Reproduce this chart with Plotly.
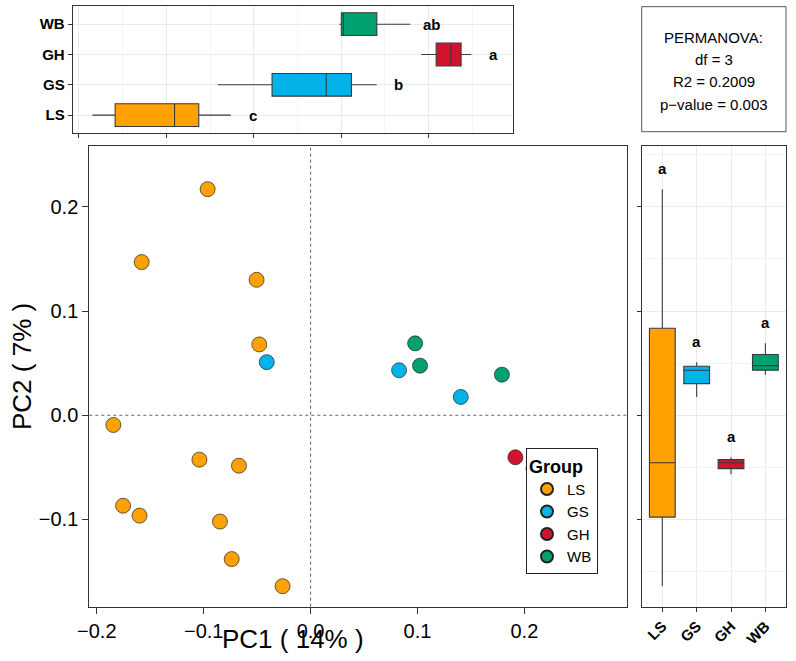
import numpy as np
import plotly.graph_objects as go

# ---------------- data ----------------
groups = ["LS", "GS", "GH", "WB"]
colors = ["#FFA100", "#00B4EA", "#D2122E", "#00A070"]

LS_x = [-0.0963, -0.158, -0.0505, -0.048, -0.1845, -0.104, -0.067, -0.1754, -0.160, -0.0848, -0.0738, -0.0262]
LS_y = [0.217, 0.147, 0.130, 0.068, -0.0093, -0.0426, -0.0484, -0.0868, -0.0963, -0.102, -0.138, -0.164]
GS_x = [-0.041, 0.0828, 0.1405]
GS_y = [0.051, 0.0432, 0.0176]
GH_x = [0.1916, 0.2085, 0.2253, 0.237, 0.2486]
GH_y = [-0.0403, -0.0512, -0.0455, -0.0566, -0.0426]
WB_x = [0.0978, 0.1024, 0.179]
WB_y = [0.069, 0.0476, 0.039]

pc1_letters = ["c", "b", "a", "ab"]
pc2_letters = ["a", "a", "a", "a"]
x_ticks = [-0.2, -0.1, 0.0, 0.1, 0.2]
y_ticks = [-0.1, 0.0, 0.1, 0.2]
perm_lines = ["PERMANOVA:", "df = 3", "R2 = 0.2009", "p\u2212value = 0.003"]
x_title = "PC1 ( 14% )"
y_title = "PC2 ( 7% )"

xs = [LS_x, GS_x, GH_x, WB_x]
ys = [LS_y, GS_y, GH_y, WB_y]

# ---------------- helpers ----------------
W, H = 796, 661
def px(v):
    return v / W
def py(v):
    return 1 - v / H

def box_stats(vals):
    a = np.array(vals, dtype=float)
    q1, med, q3 = np.percentile(a, [25, 50, 75])
    iqr = q3 - q1
    lo = a[a >= q1 - 1.5 * iqr].min()
    hi = a[a <= q3 + 1.5 * iqr].max()
    return q1, med, q3, lo, hi

FONT = "Liberation Sans, Arial, sans-serif"
LINE = "#333333"
GRID = "#EBEBEB"
GRID_MINOR = "#F4F4F4"

fig = go.Figure()

# scatter (main panel)
for g, c, x, y in zip(groups, colors, xs, ys):
    fig.add_trace(go.Scatter(
        x=x, y=y, mode="markers", name=g, legendgroup=g,
        marker=dict(size=15, color=c, line=dict(color="#222222", width=0.7)),
        xaxis="x", yaxis="y", showlegend=True))

annotations = []
# top boxplots (PC1)
for g, c, x, lt in zip(groups, colors, xs, pc1_letters):
    q1, med, q3, lo, hi = box_stats(x)
    fig.add_trace(go.Box(
        y=[g], q1=[q1], median=[med], q3=[q3], lowerfence=[lo], upperfence=[hi],
        orientation="h", fillcolor=c, line=dict(color="#3a3a3a", width=1.1),
        whiskerwidth=0, width=0.75, legendgroup=g, showlegend=False,
        xaxis="x2", yaxis="y2", hoverinfo="skip"))
    annotations.append(dict(x=hi + 0.025, y=g, xref="x2", yref="y2", text="<b>%s</b>" % lt,
                            showarrow=False, font=dict(size=15, color="black", family=FONT),
                            xanchor="center", yanchor="middle"))

# right boxplots (PC2)
for g, c, y, lt in zip(groups, colors, ys, pc2_letters):
    q1, med, q3, lo, hi = box_stats(y)
    fig.add_trace(go.Box(
        x=[g], q1=[q1], median=[med], q3=[q3], lowerfence=[lo], upperfence=[hi],
        fillcolor=c, line=dict(color="#3a3a3a", width=1.1),
        whiskerwidth=0, width=0.75, legendgroup=g, showlegend=False,
        xaxis="x3", yaxis="y3", hoverinfo="skip"))
    annotations.append(dict(x=g, y=hi + 0.02, xref="x3", yref="y3", text="<b>%s</b>" % lt,
                            showarrow=False, font=dict(size=15, color="black", family=FONT),
                            xanchor="center", yanchor="middle"))

# axis titles
annotations.append(dict(x=px(292.5), y=py(639), xref="paper", yref="paper", text=x_title,
                        showarrow=False, font=dict(size=26, color="black", family=FONT),
                        xanchor="center", yanchor="middle"))
annotations.append(dict(x=px(22), y=py(367), xref="paper", yref="paper", text=y_title,
                        showarrow=False, textangle=-90, font=dict(size=26, color="black", family=FONT),
                        xanchor="center", yanchor="middle"))

# PERMANOVA text
for i, t in enumerate(perm_lines):
    annotations.append(dict(x=px(713.8), y=py(37.5 + 22.2 * i), xref="paper", yref="paper", text=t,
                            showarrow=False, font=dict(size=15, color="black", family=FONT),
                            xanchor="center", yanchor="middle"))

XR = [-0.207, 0.296]
YR = [-0.1837, 0.2584]
main_dom_x = [px(89.3), px(627)]
main_dom_y = [py(606.7), py(146)]

common_line = dict(showline=True, linecolor=LINE, linewidth=1, mirror=True,
                   ticks="outside", tickcolor=LINE, tickwidth=1, automargin=False, zeroline=False)

shapes = [
    dict(type="line", xref="x", yref="y domain", x0=0, x1=0, y0=0, y1=1,
         line=dict(color="#666666", width=1, dash="dot"), layer="below"),
    dict(type="line", xref="x domain", yref="y", x0=0, x1=1, y0=0, y1=0,
         line=dict(color="#666666", width=1, dash="dot"), layer="below"),
    dict(type="rect", xref="paper", yref="paper", x0=px(641.7), x1=px(786), y0=py(131.7), y1=py(6.7),
         line=dict(color="#555555", width=1), fillcolor="rgba(0,0,0,0)"),
]

fig.update_layout(
    width=W, height=H, margin=dict(l=0, r=0, t=0, b=0),
    paper_bgcolor="white", plot_bgcolor="white",
    font=dict(family=FONT, color="black"),
    boxmode="overlay",
    xaxis=dict(domain=main_dom_x, range=XR, anchor="y", tickvals=x_ticks, tickformat=".1f", ticklen=6,
               showgrid=False, tickfont=dict(size=20, color="black"), **common_line),
    yaxis=dict(domain=main_dom_y, range=YR, anchor="x", tickvals=y_ticks, tickformat=".1f", ticklen=6,
               showgrid=False, tickfont=dict(size=20, color="black"), **common_line),
    xaxis2=dict(domain=[px(72.7), px(512.7)], range=XR, anchor="y2", tickvals=x_ticks, ticklen=4,
                showticklabels=False, showgrid=True, gridcolor=GRID, gridwidth=1,
                minor=dict(tickvals=[-0.15, -0.05, 0.05, 0.15, 0.25], showgrid=True,
                           gridcolor=GRID_MINOR, gridwidth=0.6, ticks=""),
                **common_line),
    yaxis2=dict(domain=[py(133.3), py(6)], type="category", categoryorder="array",
                categoryarray=groups, range=[-0.6, 3.6], anchor="x2", ticklen=4,
                showgrid=True, gridcolor=GRID, gridwidth=1,
                tickfont=dict(size=15, color="black", weight=700), **common_line),
    xaxis3=dict(domain=[px(641.7), px(786)], type="category", categoryorder="array",
                categoryarray=groups, range=[-0.6, 3.6], anchor="y3", ticklen=4,
                tickangle=-45, showgrid=True, gridcolor=GRID, gridwidth=1,
                tickfont=dict(size=15, color="black", weight=700), **common_line),
    yaxis3=dict(domain=main_dom_y, range=YR, anchor="x3", tickvals=y_ticks, ticklen=4,
                showticklabels=False, showgrid=True, gridcolor=GRID, gridwidth=1,
                minor=dict(tickvals=[-0.15, -0.05, 0.05, 0.15, 0.25], showgrid=True,
                           gridcolor=GRID_MINOR, gridwidth=0.6, ticks=""),
                **common_line),
    legend=dict(x=px(526), y=py(448.3), xanchor="left", yanchor="top",
                bgcolor="white", bordercolor="#222222", borderwidth=1,
                font=dict(size=15, color="black"), traceorder="grouped", tracegroupgap=0,
                title=dict(text="<b>Group</b>", font=dict(size=18, color="black")),
                itemsizing="constant"),
    annotations=annotations,
    shapes=shapes,
)

fig.write_html("out.html", config={"displayModeBar": False},
               post_script="document.body.style.margin='0';document.body.style.padding='0';")
